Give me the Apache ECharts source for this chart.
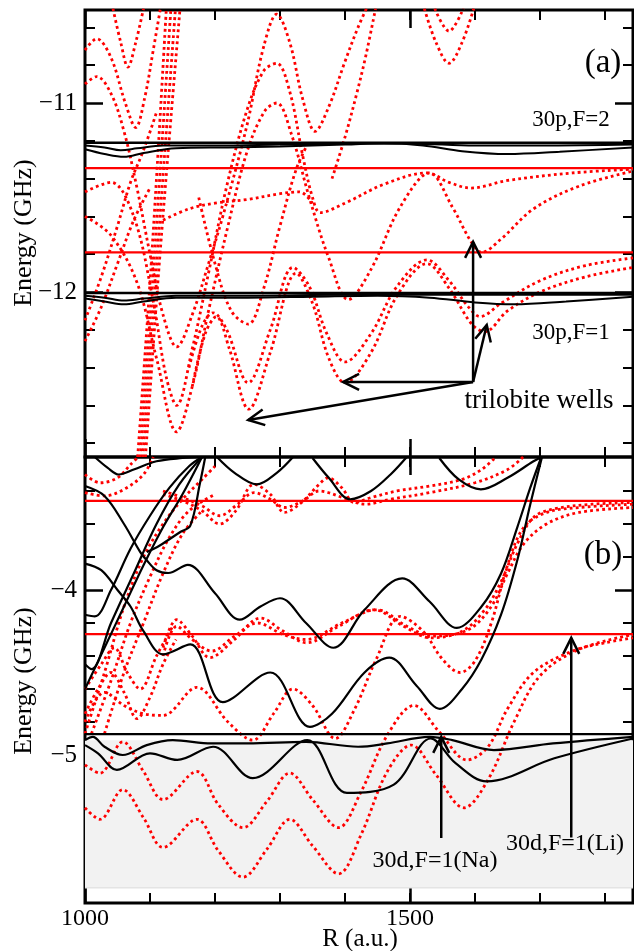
<!DOCTYPE html>
<html><head><meta charset="utf-8">
<script src="https://cdn.jsdelivr.net/npm/echarts@6/dist/echarts.min.js"></script>
<style>html,body{margin:0;padding:0;background:#fff}#c{width:634px;height:951px}</style>
</head><body><div id="c"></div>
<script>
// ---------- axes ----------
const xRange = [1000, 1843];
const xMinorTicks = [1000, 1100, 1200, 1300, 1400, 1500, 1600, 1700, 1800];
const xMajorTicks = [1000, 1500];
const topRange = [-12.873, -10.508];
const topMinorTicks = [-12.8, -12.6, -12.4, -12.2, -11.8, -11.6, -11.4, -11.2, -10.8, -10.6];
const topMajorTicks = [-12, -11];
const botRange = [-5.897, -3.194];
const botMinorTicks = [-5.8, -5.6, -5.4, -5.2, -4.8, -4.6, -4.4, -4.2, -3.8, -3.6, -3.4];
const botMajorTicks = [-5, -4];

// ---------- panel (a) ----------
const topRedLevels = [-11.345, -11.79];
const topBlackLevels = [-11.21, -12.005];
const topBlack2 = [[1000,-11.225],[1030,-11.235],[1055,-11.25],[1080,-11.24],[1120,-11.225],[1200,-11.225],[1300,-11.22],[1400,-11.215],[1500,-11.215],[1600,-11.225],[1700,-11.225],[1843,-11.22]];
const topBlack3 = [[1000,-11.245],[1030,-11.27],[1060,-11.285],[1090,-11.265],[1140,-11.24],[1220,-11.235],[1300,-11.23],[1400,-11.22],[1460,-11.212],[1520,-11.225],[1580,-11.255],[1650,-11.27],[1730,-11.258],[1843,-11.235]];
const topBlack5 = [[1000,-12.02],[1030,-12.03],[1060,-12.045],[1090,-12.035],[1140,-12.02],[1250,-12.02],[1400,-12.015],[1600,-12.015],[1843,-12.015]];
const topBlack6 = [[1000,-12.035],[1030,-12.05],[1060,-12.065],[1090,-12.05],[1140,-12.03],[1250,-12.03],[1350,-12.025],[1450,-12.02],[1530,-12.03],[1600,-12.055],[1660,-12.065],[1740,-12.05],[1843,-12.025]];

const topRedA = [[1000,-10.72],[1018,-10.66],[1040,-10.76],[1062,-11.0],[1078,-11.13],[1092,-10.97],[1105,-10.72],[1116,-10.5]];
const topRedB = [[1043,-10.5],[1055,-10.68],[1066,-10.81],[1078,-10.68],[1090,-10.5]];
const topRedC = [[1000,-10.9],[1018,-10.86],[1040,-10.95],[1060,-11.15],[1080,-11.45],[1100,-11.8],[1120,-12.12],[1141,-12.29],[1165,-12.12],[1190,-11.85],[1212,-11.6],[1249,-11.12],[1275,-10.7],[1295,-10.53],[1315,-10.68],[1335,-10.98],[1354,-11.15],[1375,-11.02],[1400,-10.78],[1420,-10.6],[1433,-10.5]];
const topRedD = [[1000,-11.47],[1040,-11.42],[1075,-11.6],[1105,-12.05],[1125,-12.45],[1141,-12.6],[1165,-12.3],[1190,-11.9],[1218,-11.44],[1249,-11.04],[1275,-10.83],[1295,-10.79],[1315,-10.94],[1335,-11.28],[1350,-11.5],[1362,-11.58],[1400,-11.53],[1460,-11.43],[1526,-11.37],[1560,-11.42],[1594,-11.45],[1650,-11.41],[1750,-11.37],[1843,-11.35]];
const topRedE = [[1000,-11.6],[1040,-11.7],[1080,-11.95],[1110,-12.35],[1141,-12.74],[1165,-12.5],[1190,-12.1],[1220,-11.65],[1250,-11.25],[1277,-11.04],[1295,-11.0],[1318,-11.17],[1345,-11.5],[1375,-11.82],[1405,-12.04],[1440,-11.88],[1485,-11.55],[1530,-11.37],[1565,-11.55],[1595,-11.74],[1610,-11.79],[1640,-11.72],[1690,-11.56],[1760,-11.44],[1843,-11.36]];
const topRedW0 = [[1175,-11.5],[1200,-11.85],[1225,-12.1],[1251,-12.17],[1275,-11.98],[1300,-11.65],[1325,-11.35],[1345,-11.2]];
const topRedW1 = [[1160,-12.4],[1180,-12.18],[1197,-12.11],[1218,-12.2],[1251,-12.48],[1285,-12.2],[1320,-11.87],[1345,-11.97],[1372,-12.22],[1400,-12.37],[1440,-12.22],[1480,-11.97],[1526,-11.83],[1560,-11.94],[1590,-12.08],[1608,-12.13],[1640,-12.06],[1700,-11.94],[1770,-11.86],[1843,-11.82]];
const topRedW2 = [[1165,-12.5],[1185,-12.22],[1202,-12.13],[1222,-12.3],[1252,-12.62],[1285,-12.32],[1325,-11.9],[1350,-12.06],[1375,-12.35],[1400,-12.48],[1440,-12.32],[1480,-12.02],[1526,-11.85],[1560,-11.98],[1595,-12.17],[1615,-12.21],[1650,-12.1],[1700,-12.0],[1770,-11.92],[1843,-11.87]];
const topRedI = [[1120,-11.62],[1160,-11.56],[1200,-11.53],[1250,-11.51],[1300,-11.48],[1330,-11.47],[1350,-11.53]];
const topRedUa = [[1522,-10.5],[1540,-10.68],[1560,-10.79],[1580,-10.68],[1598,-10.5]];
const topRedUb = [[1538,-10.5],[1560,-10.62],[1582,-10.5]];
const topRedH = [[1380,-11.4],[1400,-11.18],[1418,-10.95],[1432,-10.75],[1447,-10.5]];
const topRedF = [[1000,-12.15],[1025,-11.92],[1050,-11.65],[1070,-11.42],[1090,-11.25],[1110,-11.05]];
const topRedG = [[1000,-12.26],[1025,-12.08],[1050,-11.85],[1075,-11.62],[1100,-11.45]];
const topBand0 = [[1081,-12.873],[1099,-12.0],[1111,-11.34],[1125,-10.508]];
const topBand1 = [[1085,-12.873],[1103,-12.0],[1116,-11.34],[1132,-10.508]];
const topBand2 = [[1089,-12.873],[1107,-12.0],[1121,-11.34],[1139,-10.508]];
const topBand3 = [[1093,-12.873],[1111,-12.0],[1126,-11.34],[1146,-10.508]];
const topArrows = [[1597,-12.476,1597,-11.735],[1597,-12.476,1397,-12.476],[1597,-12.476,1251,-12.677],[1597,-12.476,1618,-12.175]];

// ---------- panel (b) ----------
const botRedLevels = [-3.46, -4.267];
const botBlackLevel = -4.873;
const grayBand = [-4.91, -5.80];
const botBlackMid = [[1000,-3.37],[1030,-3.43],[1060,-3.6],[1085,-3.77],[1095,-3.82],[1110,-3.88],[1128,-3.897],[1158,-3.848],[1200,-4.02],[1238,-4.18],[1270,-4.1],[1300,-4.05],[1340,-4.2],[1382,-4.35],[1430,-4.12],[1488,-3.93],[1530,-4.07],[1572,-4.23],[1610,-4.1],[1640,-3.9],[1665,-3.62],[1685,-3.38],[1702,-3.194]];
const botBlackLow = [[1000,-3.84],[1025,-3.88],[1050,-4.0],[1070,-4.1],[1090,-4.25],[1120,-4.39],[1162,-4.33],[1212,-4.68],[1285,-4.5],[1346,-4.83],[1380,-4.75],[1430,-4.5],[1468,-4.41],[1510,-4.58],[1546,-4.72],[1580,-4.6],[1610,-4.42],[1640,-4.15],[1665,-3.82],[1685,-3.48],[1703,-3.194]];
const botBlackU0 = [[1015,-3.194],[1035,-3.26],[1052,-3.3],[1075,-3.27],[1110,-3.22],[1150,-3.2],[1177,-3.194]];
const botBlackU1 = [[1203,-3.194],[1230,-3.29],[1264,-3.36],[1295,-3.29],[1320,-3.194]];
const botBlackU2 = [[1350,-3.2],[1375,-3.32],[1408,-3.45],[1440,-3.4],[1470,-3.3],[1495,-3.194]];
const botBlackU3 = [[1545,-3.2],[1575,-3.33],[1609,-3.39],[1650,-3.32],[1690,-3.22],[1703,-3.194]];
const botBlackA = [[1000,-4.15],[1015,-4.16],[1040,-4.0],[1070,-3.75],[1100,-3.55],[1130,-3.38],[1160,-3.25],[1180,-3.194]];
const botBlackB = [[1000,-4.45],[1010,-4.48],[1040,-4.2],[1075,-3.9],[1110,-3.6],[1145,-3.36],[1180,-3.194]];
const botBlackC = [[1000,-4.6],[1030,-4.35],[1060,-4.1],[1090,-3.85],[1120,-3.62],[1150,-3.42],[1180,-3.194]];
const botBlackE = [[1095,-3.77],[1115,-3.73],[1146,-3.65],[1162,-3.61],[1177,-3.35],[1185,-3.194]];
const botBlackG1 = [[1000,-4.91],[1012,-4.89],[1030,-4.95],[1058,-5.0],[1095,-4.94],[1135,-4.91],[1195,-4.93],[1250,-4.93],[1340,-4.92],[1420,-4.95],[1465,-4.93],[1530,-4.89],[1565,-4.91],[1629,-4.97],[1720,-4.93],[1843,-4.89]];
const botBlackG2 = [[1000,-4.94],[1020,-4.99],[1049,-5.09],[1100,-4.99],[1142,-5.03],[1197,-4.95],[1258,-5.14],[1342,-4.91],[1403,-5.23],[1475,-5.18],[1532,-4.9],[1570,-5.05],[1618,-5.16],[1722,-5.02],[1843,-4.9]];

const botRedB1 = [[1000,-3.3],[1023,-3.35],[1050,-3.32],[1070,-3.24],[1082,-3.194]];
const botRedB2 = [[1000,-3.41],[1030,-3.43],[1060,-3.39],[1090,-3.3],[1105,-3.194]];
const botRedB3 = [[1120,-3.42],[1150,-3.46],[1180,-3.52],[1207,-3.6],[1232,-3.52],[1260,-3.36],[1285,-3.42],[1307,-3.53],[1333,-3.47],[1360,-3.36],[1374,-3.32],[1395,-3.38],[1414,-3.47],[1440,-3.44],[1480,-3.4],[1530,-3.37],[1580,-3.33],[1610,-3.27],[1632,-3.194]];
const botRedB4 = [[1120,-3.4],[1150,-3.44],[1180,-3.49],[1207,-3.55],[1235,-3.48],[1260,-3.41],[1285,-3.45],[1307,-3.5],[1335,-3.46],[1360,-3.4],[1397,-3.44],[1431,-3.48],[1470,-3.45],[1530,-3.41],[1600,-3.35],[1650,-3.27],[1674,-3.194]];
const botRedM1 = [[1120,-4.35],[1141,-4.18],[1165,-4.28],[1192,-4.41],[1230,-4.3],[1270,-4.17],[1305,-4.25],[1341,-4.32],[1390,-4.22],[1445,-4.12],[1490,-4.22],[1532,-4.29],[1580,-4.25],[1615,-4.12],[1640,-3.95],[1665,-3.72],[1690,-3.56],[1720,-3.51],[1780,-3.48],[1843,-3.47]];
const botRedM2 = [[1120,-4.4],[1141,-4.22],[1165,-4.3],[1195,-4.37],[1230,-4.28],[1265,-4.2],[1305,-4.27],[1340,-4.3],[1395,-4.2],[1449,-4.12],[1495,-4.22],[1535,-4.28],[1590,-4.24],[1625,-4.1],[1650,-3.9],[1675,-3.72],[1710,-3.6],[1760,-3.53],[1843,-3.5]];
const botRedL1 = [[1000,-4.8],[1030,-4.62],[1060,-4.7],[1090,-4.75],[1120,-4.76],[1172,-4.59],[1220,-4.8],[1258,-4.91],[1290,-4.75],[1320,-4.6],[1350,-4.7],[1385,-4.9],[1415,-4.72],[1448,-4.42],[1485,-4.16],[1520,-4.25],[1550,-4.42],[1577,-4.5],[1600,-4.43],[1625,-4.2],[1650,-3.85],[1675,-3.62],[1710,-3.53],[1760,-3.5],[1843,-3.48]];
const botRedG1 = [[1000,-5.06],[1023,-5.11],[1058,-4.92],[1090,-5.1],[1120,-5.27],[1172,-5.1],[1205,-5.3],[1243,-5.44],[1280,-5.28],[1315,-5.11],[1350,-5.27],[1390,-5.44],[1425,-5.22],[1465,-4.88],[1506,-4.7],[1545,-4.86],[1588,-5.03],[1620,-4.95],[1650,-4.72],[1690,-4.5],[1750,-4.37],[1800,-4.32],[1843,-4.29]];
const botRedG2 = [[1000,-5.32],[1023,-5.39],[1058,-5.21],[1090,-5.38],[1120,-5.56],[1172,-5.39],[1205,-5.58],[1243,-5.74],[1280,-5.57],[1315,-5.39],[1350,-5.55],[1390,-5.72],[1425,-5.48],[1465,-5.1],[1502,-4.94],[1540,-5.12],[1583,-5.32],[1620,-5.15],[1660,-4.8],[1700,-4.52],[1760,-4.36],[1843,-4.27]];
const botRedS1 = [[1000,-4.87],[1030,-4.5],[1060,-4.1],[1090,-3.8],[1120,-3.6],[1150,-3.45],[1180,-3.33],[1200,-3.25]];
const botRedS2 = [[1010,-4.87],[1040,-4.55],[1070,-4.2],[1100,-3.92],[1130,-3.68],[1160,-3.52],[1200,-3.42]];
const botRedS3 = [[1030,-4.87],[1060,-4.5],[1090,-4.2],[1120,-3.9],[1150,-3.66],[1180,-3.52]];
const botRedZ1 = [[1000,-4.75],[1020,-4.6],[1040,-4.5],[1060,-4.62],[1080,-4.78],[1100,-4.65],[1120,-4.45],[1140,-4.3]];
const botRedZ2 = [[1000,-4.6],[1025,-4.45],[1045,-4.35],[1065,-4.5],[1085,-4.6],[1110,-4.4],[1135,-4.22]];
const botArrows = [[1548,-5.503,1548,-4.89],[1748,-5.50,1748,-4.29]];

// ---------- texts ----------
const labelsA = [{t:'(a)', x:603, y:63, s:33}, {t:'30p,F=2', x:571, y:120, s:23}, {t:'30p,F=1', x:571, y:333, s:23}, {t:'trilobite wells', x:539, y:401, s:27}];
const labelsB = [{t:'(b)', x:603, y:555, s:33}, {t:'30d,F=1(Na)', x:435, y:861, s:24}, {t:'30d,F=1(Li)', x:565, y:844, s:24}];

const FONT = '"Liberation Serif", "Times New Roman", serif';
const RED = '#ff0000';

const topRed = [topRedA, topRedB, topRedC, topRedD, topRedE, topRedW0, topRedW1, topRedW2, topRedI, topRedUa, topRedUb, topRedH, topRedF, topRedG, topBand0, topBand1, topBand2, topBand3];
const topBlack = [topBlack2, topBlack3, topBlack5, topBlack6];
const botRed = [botRedB1, botRedB2, botRedB3, botRedB4, botRedM1, botRedM2, botRedL1, botRedG1, botRedG2, botRedS1, botRedS2, botRedS3, botRedZ1, botRedZ2];
const botBlack = [botBlackMid, botBlackLow, botBlackU0, botBlackU1, botBlackU2, botBlackU3, botBlackA, botBlackB, botBlackC, botBlackE, botBlackG1, botBlackG2];

function fmt(v){ return v < 0 ? '\u2212' + Math.abs(v) : String(v); }

const xAxes = [], yAxes = [];
[0,1].forEach(g => {
  ['bottom','top'].forEach(pos => {
    xAxes.push({gridIndex:g, type:'value', min:xRange[0], max:xRange[1], position:pos,
      axisLine:{show:false}, splitLine:{show:false},
      axisTick:{show:true, inside:true, length:10, customValues:xMinorTicks, lineStyle:{color:'#000', width:2}},
      axisLabel:{show:false}});
    xAxes.push({gridIndex:g, type:'value', min:xRange[0], max:xRange[1], position:pos,
      axisLine:{show:false}, splitLine:{show:false},
      axisTick:{show:true, inside:true, length:18, customValues:xMajorTicks, lineStyle:{color:'#000', width:2.5}},
      axisLabel:{show: g===1 && pos==='bottom', customValues:xMajorTicks, formatter:(v)=>String(v), fontFamily:FONT, fontSize:24, color:'#000', margin:4}});
  });
  const rng = g===0 ? topRange : botRange;
  const minor = g===0 ? topMinorTicks : botMinorTicks;
  const major = g===0 ? topMajorTicks : botMajorTicks;
  ['left','right'].forEach(pos => {
    yAxes.push({gridIndex:g, type:'value', min:rng[0], max:rng[1], position:pos,
      axisLine:{show:false}, splitLine:{show:false},
      axisTick:{show:true, inside:true, length:10, customValues:minor, lineStyle:{color:'#000', width:2}},
      axisLabel:{show:false}});
    yAxes.push({gridIndex:g, type:'value', min:rng[0], max:rng[1], position:pos,
      axisLine:{show:false}, splitLine:{show:false},
      axisTick:{show:true, inside:true, length:18, customValues:major, lineStyle:{color:'#000', width:2.5}},
      axisLabel:{show: pos==='left', customValues:major, formatter:fmt, fontFamily:FONT, fontSize:25, color:'#000', margin:8}});
  });
});

const series = [];
function addLine(g, data, color, width, dotted, z){
  series.push({type:'line', xAxisIndex: g*4, yAxisIndex: g*4, data, showSymbol:false, symbol:'none',
    smooth: data.length > 2 ? 0.35 : false, silent:true, animation:false, z,
    lineStyle:{color, width, type: dotted ? [2.8, 3.2] : 'solid', cap:'butt'}});
}
series.push({type:'line', xAxisIndex:4, yAxisIndex:4, data:[], silent:true, animation:false, z:0,
  markArea:{silent:true, itemStyle:{color:'#f2f2f2'}, data:[[{xAxis:xRange[0], yAxis:grayBand[0]},{xAxis:xRange[1], yAxis:grayBand[1]}]]}});
series.push({type:'line', xAxisIndex:4, yAxisIndex:4, data:[[xRange[0],grayBand[1]],[xRange[1],grayBand[1]]], symbol:'none', silent:true, animation:false, z:0,
  lineStyle:{color:'#e4e4e4', width:3}});

topRed.forEach(d => addLine(0, d, RED, 2.8, true, 3));
topRedLevels.forEach(v => addLine(0, [[xRange[0],v],[xRange[1],v]], RED, 2.2, false, 3));
topBlackLevels.forEach(v => addLine(0, [[xRange[0],v],[xRange[1],v]], '#000', 2.6, false, 4));
topBlack.forEach(d => addLine(0, d, '#000', 2, false, 4));
botRed.forEach(d => addLine(1, d, RED, 2.8, true, 3));
botRedLevels.forEach(v => addLine(1, [[xRange[0],v],[xRange[1],v]], RED, 2.2, false, 3));
addLine(1, [[xRange[0],botBlackLevel],[xRange[1],botBlackLevel]], '#000', 2.2, false, 4);
botBlack.forEach(d => addLine(1, d, '#000', 2.2, false, 4));

function arrowItem(params, api){
  const p1 = api.coord([api.value(0), api.value(1)]);
  const p2 = api.coord([api.value(2), api.value(3)]);
  const dx = p2[0]-p1[0], dy = p2[1]-p1[1], L = Math.hypot(dx, dy);
  const ux = dx/L, uy = dy/L, hl = 16, hw = 8;
  const w1 = [p2[0]-ux*hl - uy*hw, p2[1]-uy*hl + ux*hw];
  const w2 = [p2[0]-ux*hl + uy*hw, p2[1]-uy*hl - ux*hw];
  return {type:'group', children:[
    {type:'line', shape:{x1:p1[0], y1:p1[1], x2:p2[0], y2:p2[1]}, style:{stroke:'#000', lineWidth:2.5}},
    {type:'polyline', shape:{points:[w1, p2, w2]}, style:{stroke:'#000', lineWidth:2.5, fill:null}}
  ]};
}
series.push({type:'custom', xAxisIndex:0, yAxisIndex:0, data:topArrows, renderItem:arrowItem, encode:{x:[0,2], y:[1,3]}, silent:true, animation:false, z:6, clip:false});
series.push({type:'custom', xAxisIndex:4, yAxisIndex:4, data:botArrows, renderItem:arrowItem, encode:{x:[0,2], y:[1,3]}, silent:true, animation:false, z:6, clip:false});

const graphics = [];
labelsA.concat(labelsB).forEach(l => graphics.push({type:'text', x:l.x, y:l.y, z:10,
  style:{text:l.t, font: l.s + 'px ' + FONT, fill:'#000', textAlign:'center', textVerticalAlign:'middle', backgroundColor: l.t.startsWith('(') ? '#fff' : null}}));
graphics.push({type:'text', x:24, y:233, rotation:Math.PI/2, z:10, style:{text:'Energy (GHz)', font:'26px ' + FONT, fill:'#000', textAlign:'center', textVerticalAlign:'middle'}});
graphics.push({type:'text', x:24, y:681, rotation:Math.PI/2, z:10, style:{text:'Energy (GHz)', font:'26px ' + FONT, fill:'#000', textAlign:'center', textVerticalAlign:'middle'}});
graphics.push({type:'text', x:360, y:939, z:10, style:{text:'R (a.u.)', font:'25px ' + FONT, fill:'#000', textAlign:'center', textVerticalAlign:'middle'}});

const chart = echarts.init(document.getElementById('c'), null, {renderer:'canvas'});
chart.setOption({
  animation:false,
  backgroundColor:'#fff',
  grid:[
    {left:85, top:10, width:548, height:447, show:true, borderColor:'#000', borderWidth:3, backgroundColor:'transparent', containLabel:false},
    {left:85, top:457, width:548, height:446, show:true, borderColor:'#000', borderWidth:3, backgroundColor:'transparent', containLabel:false}
  ],
  xAxis:xAxes, yAxis:yAxes, series, graphic:graphics
});
</script></body></html>
